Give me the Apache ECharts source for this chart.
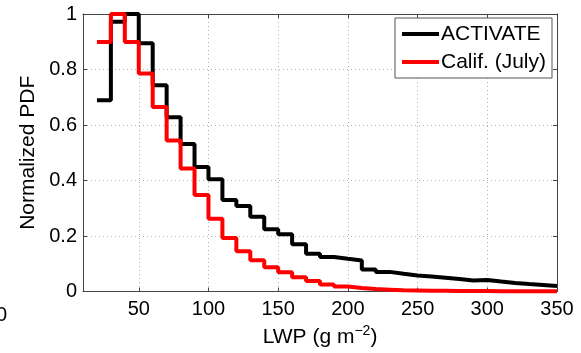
<!DOCTYPE html>
<html>
<head>
<meta charset="utf-8">
<script src="https://cdn.jsdelivr.net/npm/echarts@6/dist/echarts.min.js"></script>
<style>
  html, body { margin: 0; padding: 0; background: #fff; }
  #chart { width: 581px; height: 353px; }
</style>
</head>
<body>
<div id="chart"></div>
<script>
// left edges of the LWP bins (g m^-2), plus the right end of the last bin
const binEdges = [20, 30, 40, 50, 60, 70, 80, 90, 100, 110, 120, 130, 140, 150, 160, 170,
  180, 190, 200, 210, 220, 230, 240, 250, 260, 270, 280, 290, 300, 310, 320, 330, 340, 350];

const activatePdf = [0.689, 0.972, 1.0, 0.895, 0.743, 0.628, 0.532, 0.449, 0.405, 0.330, 0.308,
  0.270, 0.225, 0.207, 0.171, 0.136, 0.125, 0.118, 0.112, 0.080, 0.071, 0.064, 0.058, 0.054,
  0.050, 0.045, 0.040, 0.042, 0.036, 0.031, 0.027, 0.024, 0.020];

const califPdf = [0.899, 1.0, 0.899, 0.786, 0.665, 0.544, 0.443, 0.348, 0.262, 0.193, 0.145,
  0.113, 0.088, 0.070, 0.052, 0.038, 0.026, 0.018, 0.013, 0.009, 0.007, 0.005, 0.004, 0.003,
  0.003, 0.002, 0.002, 0.002, 0.001, 0.001, 0.001, 0.001, 0.001];

const xTicks = [50, 100, 150, 200, 250, 300, 350];

// histogram as a step line: each value holds until the next edge
function toSteps(vals) {
  const pts = vals.map((v, i) => [binEdges[i], v]);
  pts.push([binEdges[vals.length], vals[vals.length - 1]]);
  return pts;
}

const font = "'Liberation Sans', Arial, sans-serif";
const frameColor = '#444';

const chart = echarts.init(document.getElementById('chart'));

chart.setOption({
  animation: false,
  textStyle: { fontFamily: font },
  grid: { left: 83, right: 24, top: 14, bottom: 59 },
  legend: {
    orient: 'vertical',
    right: 29,
    top: 18,
    padding: [5, 6, 5, 7],
    itemGap: 6,
    itemWidth: 37,
    itemHeight: 4,
    icon: 'rect',
    backgroundColor: '#fff',
    borderColor: '#555',
    borderWidth: 1,
    borderRadius: 0,
    align: 'left',
    textStyle: { fontSize: 21, color: '#000', fontFamily: font, padding: [0, 0, 0, -3], lineHeight: 22 },
    data: ['ACTIVATE', 'Calif. (July)']
  },
  xAxis: [{
    type: 'value',
    min: 10,
    max: 350,
    name: 'LWP (g m{sup|\u22122})',
    nameLocation: 'middle',
    nameGap: 28,
    nameTextStyle: {
      fontSize: 21, color: '#000', fontFamily: font,
      rich: { sup: { fontSize: 14, color: '#000', fontFamily: font, padding: [0, 0, 12, 0] } }
    },
    axisLine: { show: true, lineStyle: { color: frameColor, width: 1 } },
    axisTick: { show: true, inside: true, length: 4, customValues: xTicks, lineStyle: { color: frameColor } },
    axisLabel: { customValues: xTicks, fontSize: 20, color: '#000', margin: 8, fontFamily: font },
    splitLine: { show: true, lineStyle: { color: '#b0b0b0', type: [1, 3], width: 1 } }
  }, {
    type: 'value',
    position: 'top',
    min: 10,
    max: 350,
    axisLine: { show: true, onZero: false, lineStyle: { color: frameColor, width: 1 } },
    axisTick: { show: true, inside: true, length: 4, customValues: xTicks, lineStyle: { color: frameColor } },
    axisLabel: { show: false },
    splitLine: { show: false }
  }],
  yAxis: [{
    type: 'value',
    min: 0,
    max: 1,
    interval: 0.2,
    name: 'Normalized PDF',
    nameLocation: 'middle',
    nameGap: 44,
    nameTextStyle: { fontSize: 21, color: '#000', fontFamily: font },
    axisLine: { show: true, lineStyle: { color: frameColor, width: 1 } },
    axisTick: { show: true, inside: true, length: 4, lineStyle: { color: frameColor } },
    axisLabel: { fontSize: 20, color: '#000', margin: 6, fontFamily: font },
    splitLine: { show: true, lineStyle: { color: '#b0b0b0', type: [1, 3], width: 1 } }
  }, {
    type: 'value',
    position: 'right',
    min: 0,
    max: 1,
    interval: 0.2,
    axisLine: { show: true, onZero: false, lineStyle: { color: frameColor, width: 1 } },
    axisTick: { show: true, inside: true, length: 4, lineStyle: { color: frameColor } },
    axisLabel: { show: false },
    splitLine: { show: false }
  }],
  graphic: [{
    type: 'text',
    left: -4,
    top: 305,
    style: { text: '0', fontSize: 20, fill: '#000', fontFamily: font }
  }],
  series: [{
    name: 'ACTIVATE',
    type: 'line',
    step: 'end',
    symbol: 'none',
    clip: false,
    lineStyle: { color: '#000', width: 4 },
    itemStyle: { color: '#000' },
    data: toSteps(activatePdf)
  }, {
    name: 'Calif. (July)',
    type: 'line',
    step: 'end',
    symbol: 'none',
    clip: false,
    lineStyle: { color: '#ff0000', width: 4 },
    itemStyle: { color: '#ff0000' },
    data: toSteps(califPdf)
  }]
});
</script>
</body>
</html>
